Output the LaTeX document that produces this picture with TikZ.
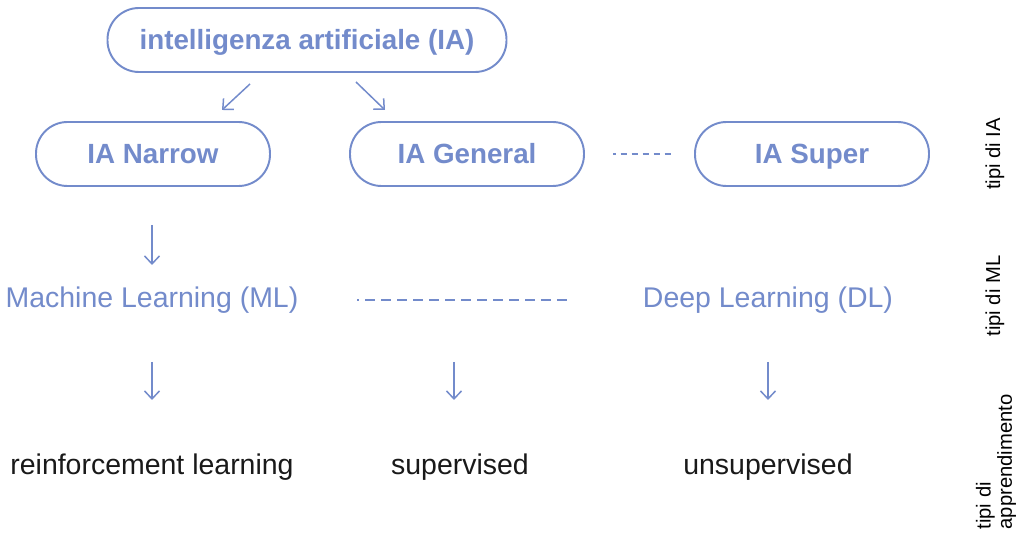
\documentclass[tikz,border=0pt]{standalone}
\usepackage{tkz-euclide}
\usepackage{tikz}
\usepackage{fontspec}
\setmainfont{Liberation Sans}
\usetikzlibrary{arrows.meta}
\definecolor{azzurro}{HTML}{738BCB}
\tikzset{
  tipo/.style={draw=azzurro, line width=1.1pt, rounded corners=0.63cm,
    minimum width=4.68cm, minimum height=1.28cm, text=azzurro,
    text height=14pt, text depth=3pt,
    font=\bfseries\fontsize{15.8}{18}\selectfont},
  freccia/.style={azzurro, line width=0.85pt, -{Straight Barb[length=0.16cm,width=0.3cm]}},
  voce/.style={text=azzurro, font=\fontsize{16.2}{18}\selectfont},
  metodo/.style={text=black!90, font=\fontsize{16.2}{18}\selectfont},
  livello/.style={rotate=90, align=left, font=\fontsize{11.5}{12}\selectfont}
}

\begin{document}
\begin{tikzpicture}
    \tkzDefPoints{0/0/O,20.46/-10.72/E}
    \useasboundingbox (O) rectangle (E);
    \tkzDefPoints{6.14/-0.80/T,3.06/-3.08/N,9.34/-3.08/G,16.24/-3.08/S}
    \tkzDefPoints{3.04/-6.00/M,15.36/-6.00/D}
    \tkzDefPoints{3.04/-9.34/R,9.20/-9.34/U,15.36/-9.34/V}
    % frecce
    \tkzDefPoints{5.00/-1.68/a1,4.44/-2.20/a2,7.12/-1.64/b1,7.70/-2.20/b2}
    \tkzDefPoints{3.04/-4.50/c1,3.04/-5.30/c2}
    \tkzDefPoints{3.04/-7.24/d1,3.04/-8.00/d2,9.08/-7.24/e1,9.08/-8.00/e2,15.36/-7.24/f1,15.36/-8.00/f2}
    \tkzDefPoints{12.26/-3.08/g1,13.46/-3.08/g2,7.14/-6.00/h1,11.36/-6.00/h2}

    \node[tipo, minimum width=7.98cm] (ia) at (T) {intelligenza artificiale (IA)};
    \node[tipo] (narrow) at (N) {IA Narrow};
    \node[tipo] (general) at (G) {IA General};
    \node[tipo] (super) at (S) {IA Super};
    \node[voce] (ml) at (M) {Machine Learning (ML)};
    \node[voce] (dl) at (D) {Deep Learning (DL)};
    \node[metodo] (rl) at (R) {reinforcement learning};
    \node[metodo] (sup) at (U) {supervised};
    \node[metodo] (unsup) at (V) {unsupervised};

    \draw[freccia] (a1) -- (a2);
    \draw[freccia] (b1) -- (b2);
    \draw[freccia] (c1) -- (c2);
    \draw[freccia] (d1) -- (d2);
    \draw[freccia] (e1) -- (e2);
    \draw[freccia] (f1) -- (f2);
    \draw[azzurro, line width=1.1pt, dash pattern=on 0.12cm off 0.1cm, dash phase=0.07cm] (g1) -- (g2);
    \draw[azzurro, line width=1.1pt, dash pattern=on 0.2cm off 0.12cm, dash phase=0.16cm] (h1) -- (h2);

    \node[livello] (l1) at (19.90,-3.08) {tipi di IA};
    \node[livello] (l2) at (19.90,-5.92) {tipi di ML};
    \node[livello] (l3) at (19.92,-9.24) {tipi di\\apprendimento};
\end{tikzpicture}
\end{document}
